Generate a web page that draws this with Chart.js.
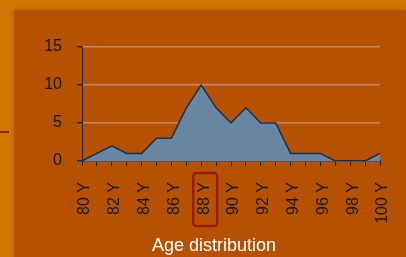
<!DOCTYPE html>
<html>
<head>
<meta charset="utf-8">
<script src="https://cdn.jsdelivr.net/npm/chart.js@4.4.1/dist/chart.umd.min.js"></script>
<style>
  html, body { margin: 0; padding: 0; background: #cf7700; }
  #wrap { width: 406px; height: 257px; position: relative; }
</style>
</head>
<body>
<div id="wrap"><canvas id="ageChart"></canvas></div>
<script>
const ages = [80, 81, 82, 83, 84, 85, 86, 87, 88, 89, 90, 91, 92, 93, 94, 95, 96, 97, 98, 99, 100];
const counts = [0, 1, 2, 1, 1, 3, 3, 7, 10, 7, 5, 7, 5, 5, 1, 1, 1, 0, 0, 0, 1];
const yTicks = [0, 5, 10, 15];
const highlightAge = 88;
const labels = ages.map((a) => a + ' Y');

const FONT = "'Liberation Sans', Arial, sans-serif";

const backdrop = {
  id: 'backdrop',
  afterLayout(chart) {
    // title sits a bit right of the canvas centre in the original slide
    const t = chart.titleBlock;
    if (t) { t.left += 13; t.right += 13; }
  },
  beforeDraw(chart) {
    const { ctx, width, height } = chart;
    ctx.save();
    ctx.fillStyle = '#cf7700';
    ctx.fillRect(0, 0, width, height);
    ctx.shadowColor = 'rgba(120,50,0,0.45)';
    ctx.shadowBlur = 4;
    ctx.fillStyle = '#b65104';
    ctx.fillRect(14, 10, width - 14, height - 10);
    ctx.shadowBlur = 0;
    ctx.fillStyle = '#a01a00';
    ctx.fillRect(0, 131, 9, 2);
    ctx.restore();
  },
};

const highlight = {
  id: 'highlight',
  afterDraw(chart) {
    const x = chart.scales.x;
    const idx = ages.indexOf(highlightAge);
    const px = x.getPixelForTick(idx);
    const left = px - 8, top = x.top + 12, w = 24, h = 53, r = 3;
    const { ctx } = chart;
    ctx.save();
    ctx.strokeStyle = 'rgba(150,22,8,0.9)';
    ctx.lineWidth = 2.5;
    ctx.beginPath();
    ctx.roundRect(left, top, w, h, r);
    ctx.stroke();
    ctx.restore();
  },
};

new Chart(document.getElementById('ageChart'), {
  type: 'line',
  data: {
    labels,
    datasets: [{
      data: counts,
      fill: 'origin',
      backgroundColor: 'rgb(104,133,163)',
      borderColor: 'rgb(28,48,72)',
      borderWidth: 1.5,
      pointRadius: 0,
      tension: 0,
    }],
  },
  options: {
    responsive: true,
    maintainAspectRatio: false,
    animation: false,
    layout: { padding: { left: 22, right: 26, top: 47, bottom: 0 } },
    plugins: {
      legend: { display: false },
      tooltip: { enabled: false },
      title: {
        display: true,
        position: 'bottom',
        text: 'Age distribution',
        color: '#ffffff',
        font: { family: FONT, size: 18, weight: 'normal' },
        padding: { top: 8, bottom: 0 },
      },
    },
    scales: {
      x: {
        afterFit(scale) {
          scale.height = 66.4;
          scale.paddingLeft = 0;
          scale.paddingRight = 0;
        },
        grid: {
          drawOnChartArea: false,
          drawTicks: true,
          tickLength: 5,
          color: 'rgb(28,40,60)',
          tickColor: 'rgb(28,40,60)',
        },
        border: { color: 'rgb(28,40,60)', width: 1.5 },
        ticks: {
          autoSkip: false,
          minRotation: 90,
          maxRotation: 90,
          padding: 16,
          labelOffset: 3,
          color: '#1a1a1a',
          font: { family: FONT, size: 16 },
          callback: (v, i) => (ages[i] % 2 === 0 ? labels[i] : ''),
        },
      },
      y: {
        min: 0,
        max: 15,
        afterFit(scale) { scale.width = 60; },
        afterBuildTicks(scale) { scale.ticks = yTicks.map((v) => ({ value: v })); },
        grid: {
          color: 'rgba(200,150,130,0.8)',
          lineWidth: 1.5,
          tickLength: 5,
          tickColor: 'rgb(40,40,50)',
        },
        border: { color: 'rgb(40,40,50)', width: 1 },
        ticks: {
          padding: 15,
          color: '#1a1a1a',
          font: { family: FONT, size: 16 },
        },
      },
    },
  },
  plugins: [backdrop, highlight],
});
</script>
</body>
</html>
